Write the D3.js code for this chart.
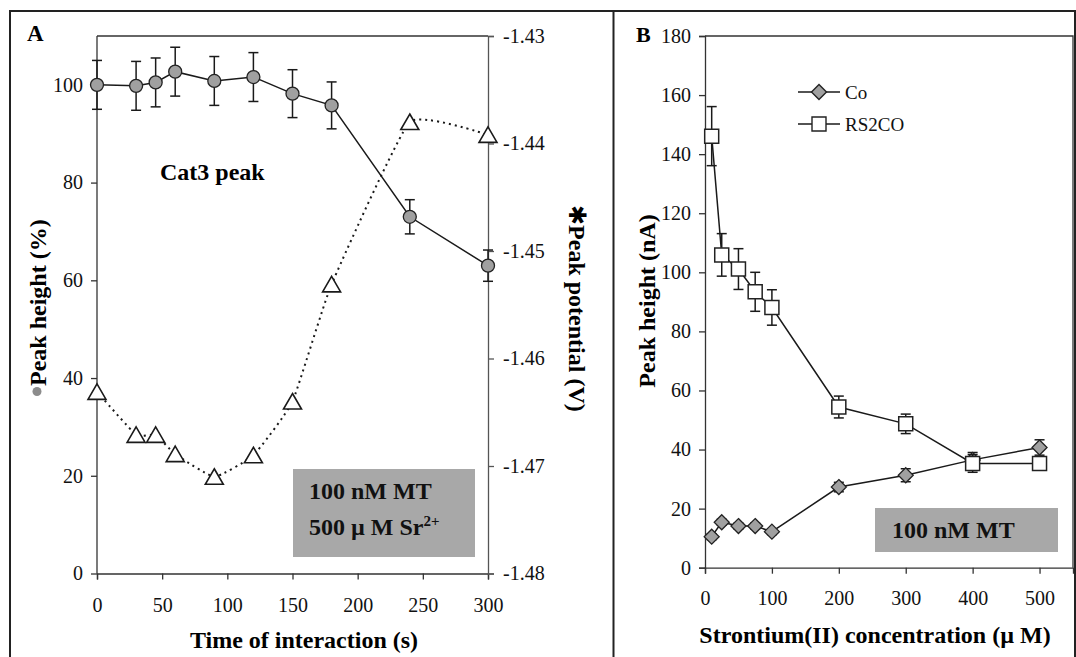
<!DOCTYPE html>
<html>
<head>
<meta charset="utf-8">
<script src="https://cdn.jsdelivr.net/npm/d3@7/dist/d3.min.js"></script>
<style>
  body { margin: 0; background: #fff; }
  svg { display: block; }
</style>
</head>
<body>
<script>
// panel A: peak height and peak potential vs time
var timeA = [0, 30, 45, 60, 90, 120, 150, 180, 240, 300];
var heightA = [100, 99.8, 100.5, 102.7, 100.8, 101.6, 98.2, 95.8, 73, 63];
var heightErrA = [5, 5, 5, 5, 5, 5, 4.9, 4.8, 3.5, 3.2];
var potentialA = [-1.4631, -1.4671, -1.4671, -1.4689, -1.4710, -1.4690, -1.4640, -1.4531, -1.4380, -1.4392];
var xTicksA = [0, 50, 100, 150, 200, 250, 300];
var leftTicksA = [0, 20, 40, 60, 80, 100];
var rightTicksA = [-1.48, -1.47, -1.46, -1.45, -1.44, -1.43];

// panel B: peak height vs Sr(II) concentration
var concB = [10, 25, 50, 75, 100, 200, 300, 400, 500];
var coB = [10.5, 15.4, 14.1, 14.1, 12.2, 27.3, 31.3, 36.5, 40.7];
var coErrB = [1, 1, 1, 1, 1, 1.6, 2.2, 2.5, 2.6];
var rs2coB = [146.1, 105.9, 101.1, 93.4, 88.1, 54.4, 48.7, 35.3, 35.3];
var rs2coErrB = [10, 7.2, 6.9, 6.6, 6, 3.7, 3.3, 3, 2];
var xTicksB = [0, 100, 200, 300, 400, 500];
var yTicksB = [0, 20, 40, 60, 80, 100, 120, 140, 160, 180];

(function() {
  'use strict';

  var width = 1076, height = 657;
  var serif = "'Liberation Serif', 'Times New Roman', serif";
  var ink = "#1a1a1a", markGray = "#a0a0a0", boxGray = "#a8a8a8";

  var svg = d3.select("body").append("svg")
      .attr("width", width)
      .attr("height", height)
      .style("font-family", serif);

  // outer frame and divider
  svg.append("rect")
     .attr("x", 10).attr("y", 11)
     .attr("width", 1065).attr("height", 700)
     .attr("fill", "none").attr("stroke", "#222").attr("stroke-width", 2);
  svg.append("line")
     .attr("x1", 613.5).attr("x2", 613.5).attr("y1", 11).attr("y2", height)
     .attr("stroke", "#222").attr("stroke-width", 2);

  function styleAxis(g) {
    g.attr("font-family", serif).attr("font-size", 20);
    g.selectAll("path, line").attr("stroke", "#333").attr("stroke-width", 1.3);
    g.selectAll("text").attr("fill", "#111");
  }

  function errBars(g, xs, ys, es, x, y) {
    var bars = g.selectAll(null).data(xs).enter().append("g")
        .attr("stroke", ink).attr("stroke-width", 1.5);
    bars.append("line")
        .attr("x1", function(d) { return x(d); })
        .attr("x2", function(d) { return x(d); })
        .attr("y1", function(d, i) { return y(ys[i] - es[i]); })
        .attr("y2", function(d, i) { return y(ys[i] + es[i]); });
    [-1, 1].forEach(function(s) {
      bars.append("line")
          .attr("x1", function(d) { return x(d) - 5; })
          .attr("x2", function(d) { return x(d) + 5; })
          .attr("y1", function(d, i) { return y(ys[i] + s * es[i]); })
          .attr("y2", function(d, i) { return y(ys[i] + s * es[i]); });
    });
  }

  // ---------------- panel A ----------------
  var xA = d3.scaleLinear().domain([0, 300]).range([97, 488]);
  var yA = d3.scaleLinear().domain([0, 110]).range([573.5, 36]);
  var yA2 = d3.scaleLinear().domain([-1.48, -1.43]).range([573.5, 36]);

  svg.append("line")
     .attr("x1", xA.range()[0]).attr("x2", xA.range()[1])
     .attr("y1", yA.range()[1]).attr("y2", yA.range()[1])
     .attr("stroke", "#333").attr("stroke-width", 1.3);

  svg.append("g")
     .attr("transform", "translate(0," + yA.range()[0] + ")")
     .call(d3.axisBottom(xA).tickValues(xTicksA).tickSizeOuter(0).tickSize(6))
     .call(styleAxis)
     .selectAll("text").attr("dy", null).attr("y", 38);

  svg.append("g")
     .attr("transform", "translate(" + xA.range()[0] + ",0)")
     .call(d3.axisLeft(yA).tickValues(leftTicksA).tickSizeOuter(0).tickSize(6).tickPadding(8))
     .call(styleAxis)
     .call(function(g) { g.select(".domain").attr("d", "M0," + yA.range()[0] + "V" + yA.range()[1]); });

  // plain hyphen like the original, not a unicode minus
  svg.append("g")
     .attr("transform", "translate(" + xA.range()[1] + ",0)")
     .call(d3.axisRight(yA2).tickValues(rightTicksA).tickSizeOuter(0).tickSize(6).tickPadding(9)
             .tickFormat(function(d) { return d.toFixed(2); }))
     .call(styleAxis)
     .call(function(g) { g.selectAll("path, line").attr("stroke", "#555"); });

  // gray box
  svg.append("rect")
     .attr("x", 293).attr("y", 469).attr("width", 182).attr("height", 88)
     .attr("fill", boxGray);
  svg.append("text").attr("x", 309).attr("y", 499)
     .attr("font-size", 24).attr("font-weight", "bold").attr("fill", "#111")
     .text("100 nM MT");
  var t2 = svg.append("text").attr("x", 309).attr("y", 535)
     .attr("font-size", 24).attr("font-weight", "bold").attr("fill", "#111");
  t2.append("tspan").text("500 \u00b5 M Sr");
  t2.append("tspan").attr("font-size", 15).attr("dy", -9).text("2+");

  // triangles: peak potential, dotted lightly smoothed line
  var potLine = d3.line()
      .x(function(d, i) { return xA(timeA[i]); })
      .y(function(d) { return yA2(d); })
      .curve(d3.curveCardinal.tension(0.6));

  svg.append("path").datum(potentialA)
     .attr("d", potLine)
     .attr("fill", "none")
     .attr("stroke", ink)
     .attr("stroke-width", 2)
     .attr("stroke-dasharray", "2,4");

  // circles: peak height
  errBars(svg.append("g"), timeA, heightA, heightErrA, xA, yA);

  var hLine = d3.line()
      .x(function(d, i) { return xA(timeA[i]); })
      .y(function(d) { return yA(d); });

  svg.append("path").datum(heightA)
     .attr("d", hLine)
     .attr("fill", "none")
     .attr("stroke", ink)
     .attr("stroke-width", 1.5);

  svg.selectAll(".tri").data(potentialA).enter()
     .append("path")
     .attr("class", "tri")
     .attr("transform", function(d, i) { return "translate(" + xA(timeA[i]) + "," + yA2(d) + ")"; })
     .attr("d", "M0,-8L9,7.5L-9,7.5Z")
     .attr("fill", "#fff")
     .attr("stroke", ink)
     .attr("stroke-width", 1.6);

  svg.selectAll(".dot").data(heightA).enter()
     .append("circle")
     .attr("class", "dot")
     .attr("cx", function(d, i) { return xA(timeA[i]); })
     .attr("cy", function(d) { return yA(d); })
     .attr("r", 6.5)
     .attr("fill", markGray)
     .attr("stroke", "#222")
     .attr("stroke-width", 1.3);

  // labels
  svg.append("text").attr("x", 27).attr("y", 41)
     .attr("font-size", 23).attr("font-weight", "bold").text("A");
  svg.append("text").attr("x", 160).attr("y", 180)
     .attr("font-size", 24).attr("font-weight", "bold").text("Cat3 peak");
  svg.append("text").attr("x", 304).attr("y", 648)
     .attr("text-anchor", "middle")
     .attr("font-size", 24).attr("font-weight", "bold").text("Time of interaction (s)");

  svg.append("circle").attr("cx", 37).attr("cy", 391.5).attr("r", 4.5).attr("fill", "#8c8c8c");
  svg.append("text")
     .attr("transform", "translate(46,386) rotate(-90)")
     .attr("font-size", 24).attr("font-weight", "bold")
     .text("Peak height (%)");

  var rl = svg.append("text")
     .attr("transform", "translate(569,205) rotate(90)")
     .attr("font-size", 24).attr("font-weight", "bold");
  rl.append("tspan").attr("font-family", "'DejaVu Sans', sans-serif").attr("font-size", 24).text("\u2731");
  rl.append("tspan").text("Peak potential (V)");

  // ---------------- panel B ----------------
  var xB = d3.scaleLinear().domain([0, 550]).range([705, 1073]);
  var yB = d3.scaleLinear().domain([0, 180]).range([567.7, 36]);

  svg.append("path")
     .attr("d", "M" + xB.range()[0] + "," + yB.range()[1] + "H" + xB.range()[1] + "V" + yB.range()[0])
     .attr("fill", "none").attr("stroke", "#333").attr("stroke-width", 1.3);

  svg.append("g")
     .attr("transform", "translate(0," + yB.range()[0] + ")")
     .call(d3.axisBottom(xB).tickValues(xTicksB).tickSizeOuter(0).tickSize(6))
     .call(styleAxis)
     .selectAll("text").attr("dy", null).attr("y", 37);

  svg.append("g")
     .attr("transform", "translate(" + xB.range()[0] + ",0)")
     .call(d3.axisLeft(yB).tickValues(yTicksB).tickSizeOuter(0).tickSize(6).tickPadding(8))
     .call(styleAxis);

  svg.append("rect")
     .attr("x", 875).attr("y", 508).attr("width", 183).attr("height", 44)
     .attr("fill", boxGray);
  svg.append("text").attr("x", 892).attr("y", 538)
     .attr("font-size", 24).attr("font-weight", "bold").attr("fill", "#111")
     .text("100 nM MT");

  var lineB = function(vals) {
    return d3.line()
        .x(function(d, i) { return xB(concB[i]); })
        .y(function(d) { return yB(d); })(vals);
  };
  var diamond = "M0,-7.5L7.5,0L0,7.5L-7.5,0Z",
      square = "M-7,-7H7V7H-7Z";

  // Co series
  errBars(svg.append("g"), concB, coB, coErrB, xB, yB);
  svg.append("path").attr("d", lineB(coB))
     .attr("fill", "none").attr("stroke", ink).attr("stroke-width", 1.5);
  svg.selectAll(".co").data(coB).enter()
     .append("path").attr("class", "co")
     .attr("transform", function(d, i) { return "translate(" + xB(concB[i]) + "," + yB(d) + ")"; })
     .attr("d", diamond)
     .attr("fill", markGray).attr("stroke", "#222").attr("stroke-width", 1.3);

  // RS2CO series
  errBars(svg.append("g"), concB, rs2coB, rs2coErrB, xB, yB);
  svg.append("path").attr("d", lineB(rs2coB))
     .attr("fill", "none").attr("stroke", ink).attr("stroke-width", 1.5);
  svg.selectAll(".rs").data(rs2coB).enter()
     .append("path").attr("class", "rs")
     .attr("transform", function(d, i) { return "translate(" + xB(concB[i]) + "," + yB(d) + ")"; })
     .attr("d", square)
     .attr("fill", "#fff").attr("stroke", "#222").attr("stroke-width", 1.5);

  // legend
  var legend = [{name: "Co", shape: diamond, fill: markGray, y: 92},
                {name: "RS2CO", shape: square, fill: "#fff", y: 124}];
  var lg = svg.selectAll(".lg").data(legend).enter().append("g")
      .attr("class", "lg")
      .attr("transform", function(d) { return "translate(798," + d.y + ")"; });
  lg.append("line").attr("x1", 0).attr("x2", 42)
     .attr("stroke", ink).attr("stroke-width", 1.5);
  lg.append("path").attr("transform", "translate(21,0)")
     .attr("d", function(d) { return d.shape; })
     .attr("fill", function(d) { return d.fill; })
     .attr("stroke", "#222").attr("stroke-width", 1.4);
  lg.append("text").attr("x", 47).attr("y", 7)
     .attr("font-size", 19).attr("fill", "#111")
     .text(function(d) { return d.name; });

  svg.append("text").attr("x", 636).attr("y", 42)
     .attr("font-size", 22).attr("font-weight", "bold").text("B");
  svg.append("text").attr("x", 875).attr("y", 643)
     .attr("text-anchor", "middle")
     .attr("font-size", 24).attr("font-weight", "bold")
     .text("Strontium(II) concentration (\u00b5 M)");
  svg.append("text")
     .attr("transform", "translate(655,301) rotate(-90)")
     .attr("text-anchor", "middle")
     .attr("font-size", 24).attr("font-weight", "bold")
     .text("Peak height (nA)");

})()
</script>
</body>
</html>
